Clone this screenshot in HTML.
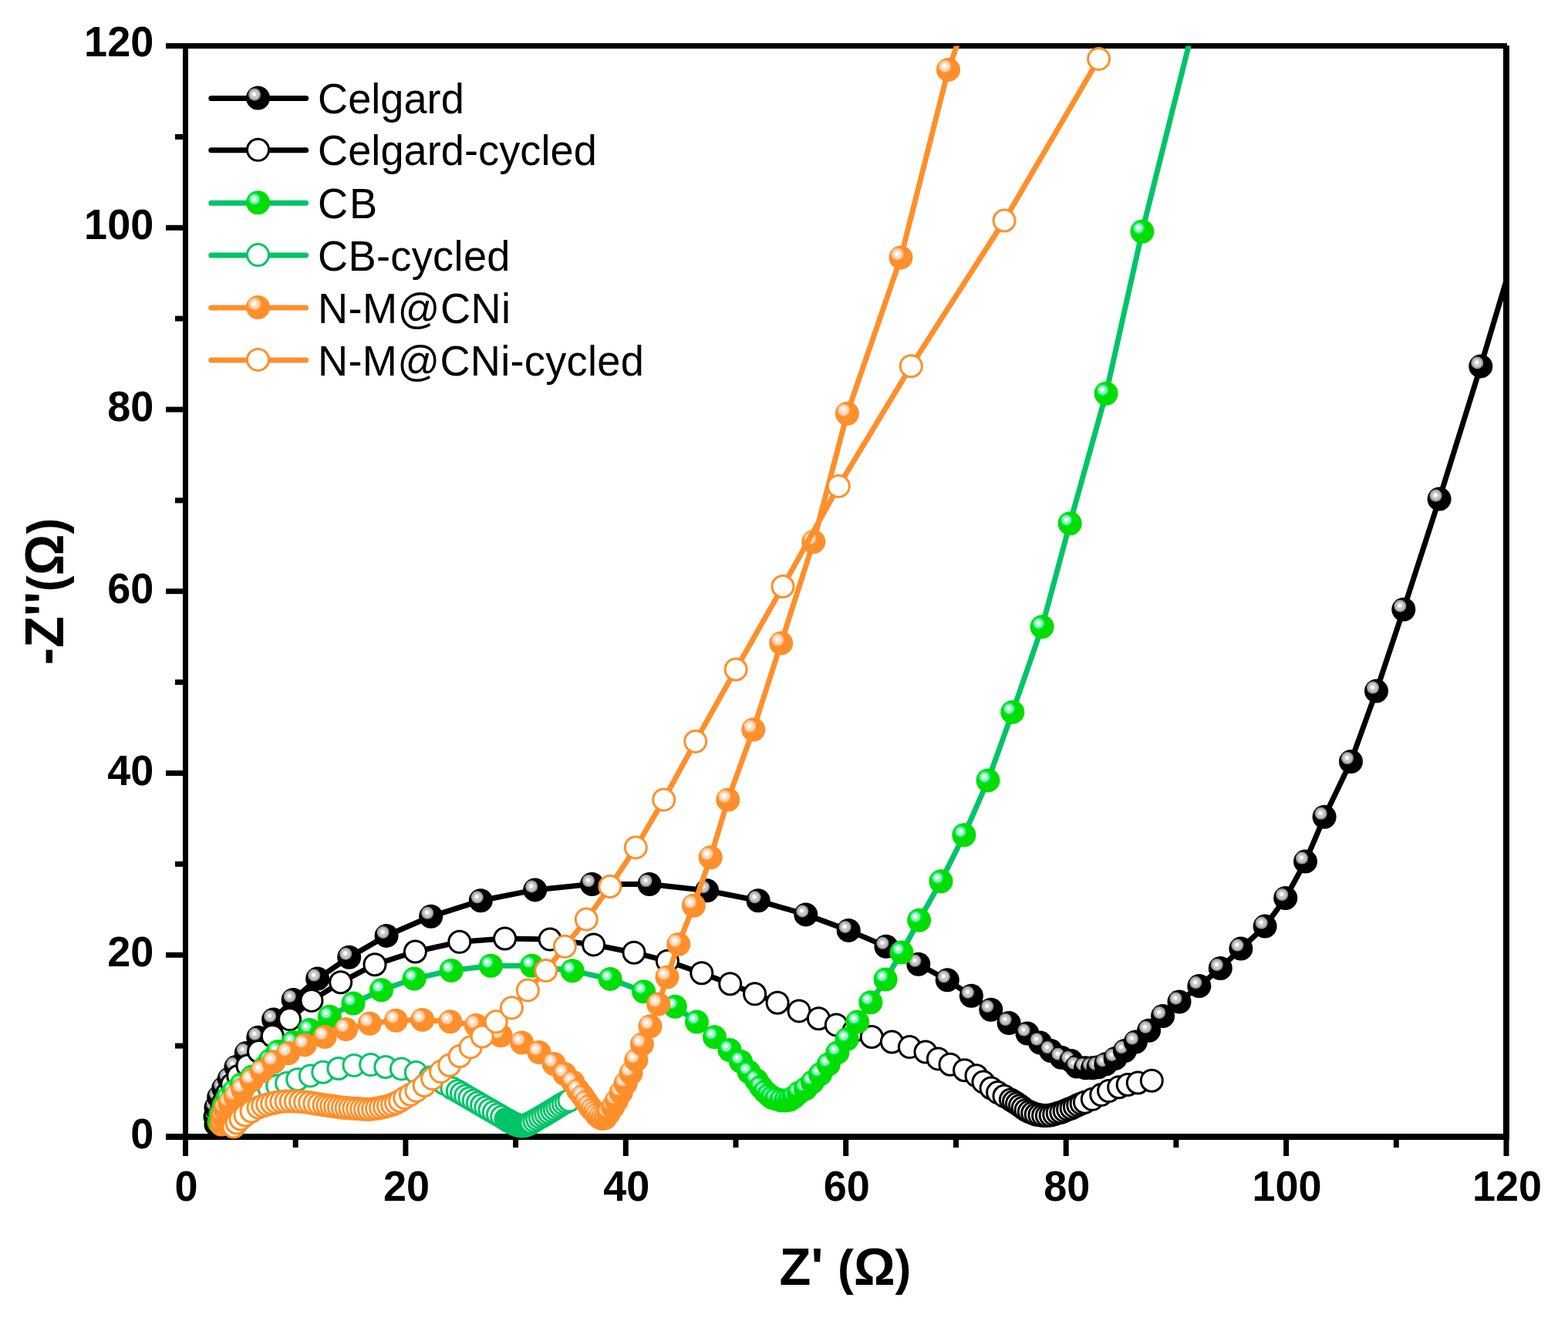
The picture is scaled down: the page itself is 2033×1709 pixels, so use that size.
<!DOCTYPE html>
<html><head><meta charset="utf-8"><title>Nyquist plot</title>
<style>html,body{margin:0;padding:0;background:#fff;}svg{display:block;}text{font-family:'Liberation Sans', Arial, Helvetica, sans-serif;}</style></head><body>
<svg width="2033" height="1709" viewBox="0 0 2033 1709">
<rect x="0" y="0" width="2033" height="1709" fill="#fff"/>
<defs>
<clipPath id="pc"><rect x="240.5" y="59.5" width="1712.5" height="1444.5"/></clipPath>
<g id="bk">
<circle r="15.5" fill="#000000"/>
<circle cx="-4.5" cy="-4.5" r="8" fill="#999999"/>
<circle cx="-4.5" cy="-4.5" r="6" fill="#C8C8C8"/>
<circle cx="-5" cy="-5" r="2.6" fill="#fff"/>
</g>
<g id="gn">
<circle r="15.5" fill="#00DD00"/>
<circle cx="-4.5" cy="-4.5" r="8" fill="#00EE70"/>
<circle cx="-4.5" cy="-4.5" r="6" fill="#9CF5B6"/>
<circle cx="-5" cy="-5" r="2.6" fill="#fff"/>
</g>
<g id="or">
<circle r="15.5" fill="#FF8F2A"/>
<circle cx="-4.5" cy="-4.5" r="8" fill="#FFC08C"/>
<circle cx="-4.5" cy="-4.5" r="6" fill="#FFDFC6"/>
<circle cx="-5" cy="-5" r="2.6" fill="#fff"/>
</g>
<circle id="ok" r="14" fill="#fff" stroke="#000000" stroke-width="3"/>
<circle id="og" r="14" fill="#fff" stroke="#00C468" stroke-width="3"/>
<circle id="oo" r="14" fill="#fff" stroke="#FF8F2A" stroke-width="3"/>
</defs>
<g fill="#000">
<rect x="237" y="56" width="7" height="1422"/>
<rect x="237" y="56" width="1717" height="7"/>
<rect x="1949" y="59" width="8" height="1419"/>
<rect x="215" y="1470" width="1742" height="8"/>
<rect x="237" y="1478" width="7" height="21"/>
<rect x="379.7" y="1478" width="7" height="10"/>
<rect x="522.4" y="1478" width="7" height="21"/>
<rect x="665.1" y="1478" width="7" height="10"/>
<rect x="807.8" y="1478" width="7" height="21"/>
<rect x="950.5" y="1478" width="7" height="10"/>
<rect x="1093.2" y="1478" width="7" height="21"/>
<rect x="1236" y="1478" width="7" height="10"/>
<rect x="1378.7" y="1478" width="7" height="21"/>
<rect x="1521.4" y="1478" width="7" height="10"/>
<rect x="1664.1" y="1478" width="7" height="21"/>
<rect x="1806.8" y="1478" width="7" height="10"/>
<rect x="1949.5" y="1478" width="7" height="21"/>
<rect x="215" y="1470.5" width="22" height="7"/>
<rect x="227" y="1352.6" width="10" height="7"/>
<rect x="215" y="1234.8" width="22" height="7"/>
<rect x="227" y="1116.9" width="10" height="7"/>
<rect x="215" y="999" width="22" height="7"/>
<rect x="227" y="881.1" width="10" height="7"/>
<rect x="215" y="763.2" width="22" height="7"/>
<rect x="227" y="645.4" width="10" height="7"/>
<rect x="215" y="527.5" width="22" height="7"/>
<rect x="227" y="409.6" width="10" height="7"/>
<rect x="215" y="291.8" width="22" height="7"/>
<rect x="227" y="173.9" width="10" height="7"/>
<rect x="215" y="56" width="22" height="7"/>
</g>
<g font-family="'Liberation Sans', Arial, Helvetica, sans-serif" font-weight="bold" font-size="54" fill="#000">
<text transform="translate(241.5 1557.3) scale(1 1.035)" text-anchor="middle">0</text>
<text transform="translate(526.9 1557.3) scale(1 1.035)" text-anchor="middle">20</text>
<text transform="translate(812.3 1557.3) scale(1 1.035)" text-anchor="middle">40</text>
<text transform="translate(1097.8 1557.3) scale(1 1.035)" text-anchor="middle">60</text>
<text transform="translate(1383.2 1557.3) scale(1 1.035)" text-anchor="middle">80</text>
<text transform="translate(1668.6 1557.3) scale(1 1.035)" text-anchor="middle">100</text>
<text transform="translate(1954 1557.3) scale(1 1.035)" text-anchor="middle">120</text>
<text transform="translate(199.2 1489) scale(1 1.035)" text-anchor="end">0</text>
<text transform="translate(199.2 1253.2) scale(1 1.035)" text-anchor="end">20</text>
<text transform="translate(199.2 1017.5) scale(1 1.035)" text-anchor="end">40</text>
<text transform="translate(199.2 781.8) scale(1 1.035)" text-anchor="end">60</text>
<text transform="translate(199.2 546) scale(1 1.035)" text-anchor="end">80</text>
<text transform="translate(199.2 310.2) scale(1 1.035)" text-anchor="end">100</text>
<text transform="translate(199.2 73.1) scale(1 1.035)" text-anchor="end">120</text>
</g>
<text transform="translate(1096 1665.8) scale(1 1.037)" text-anchor="middle" font-family="'Liberation Sans', Arial, Helvetica, sans-serif" font-weight="bold" font-size="67">Z' <tspan font-size="62.6">(</tspan>&#937;<tspan font-size="62.6">)</tspan></text>
<text transform="translate(82.2 767) rotate(-90) scale(1 1.05)" text-anchor="middle" font-family="'Liberation Sans', Arial, Helvetica, sans-serif" font-weight="bold" font-size="67">-Z''<tspan font-size="62.6">(</tspan>&#937;<tspan font-size="62.6">)</tspan></text>
<path d="M280 1458 L279 1448 L280 1436 L283.7 1422.7 L289.7 1411.2 L297.1 1399.1 L305.9 1383.6 L319.3 1365.5 L334.8 1345.3 L354.6 1322 L380.2 1296.4 L411.7 1269.1 L452.7 1241.2 L501.1 1213.4 L558.7 1188.3 L623.3 1167.8 L693.7 1153.9 L767.5 1146.5 L842 1146.5 L916.6 1154.7 L983.1 1167.8 L1044.8 1185.9 L1100.2 1206.4 L1148.9 1227.3 L1190.8 1250.3 L1228.3 1270.8 L1259.4 1291.2 L1284.8 1309.3 L1308.1 1326.5 L1332 1340.1 L1348.6 1352 L1362.5 1362.6 L1376.1 1371.2 L1388.8 1375.6 L1396.2 1383 L1407.6 1384.7 L1416.6 1384.7 L1424 1383.8 L1433.8 1379.7 L1446.1 1372.4 L1458.5 1362.5 L1472.4 1351 L1489.6 1336.3 L1507.6 1317.5 L1529 1299 L1554.8 1278.6 L1582.3 1255.5 L1608.9 1230.1 L1640.1 1201.1 L1666.7 1164.5 L1692.5 1117.1 L1717.1 1059.3 L1751.5 987.5 L1784.5 896.1 L1819.8 790.2 L1866.1 647.1 L1919.8 474.9 L1972 300" fill="none" stroke="#000000" stroke-width="7" stroke-linejoin="round" stroke-linecap="butt" clip-path="url(#pc)"/>
<g>
<use href="#bk" x="280" y="1458"/>
<use href="#bk" x="279" y="1448"/>
<use href="#bk" x="280" y="1436"/>
<use href="#bk" x="283.7" y="1422.7"/>
<use href="#bk" x="289.7" y="1411.2"/>
<use href="#bk" x="297.1" y="1399.1"/>
<use href="#bk" x="305.9" y="1383.6"/>
<use href="#bk" x="319.3" y="1365.5"/>
<use href="#bk" x="334.8" y="1345.3"/>
<use href="#bk" x="354.6" y="1322"/>
<use href="#bk" x="380.2" y="1296.4"/>
<use href="#bk" x="411.7" y="1269.1"/>
<use href="#bk" x="452.7" y="1241.2"/>
<use href="#bk" x="501.1" y="1213.4"/>
<use href="#bk" x="558.7" y="1188.3"/>
<use href="#bk" x="623.3" y="1167.8"/>
<use href="#bk" x="693.7" y="1153.9"/>
<use href="#bk" x="767.5" y="1146.5"/>
<use href="#bk" x="842" y="1146.5"/>
<use href="#bk" x="916.6" y="1154.7"/>
<use href="#bk" x="983.1" y="1167.8"/>
<use href="#bk" x="1044.8" y="1185.9"/>
<use href="#bk" x="1100.2" y="1206.4"/>
<use href="#bk" x="1148.9" y="1227.3"/>
<use href="#bk" x="1190.8" y="1250.3"/>
<use href="#bk" x="1228.3" y="1270.8"/>
<use href="#bk" x="1259.4" y="1291.2"/>
<use href="#bk" x="1284.8" y="1309.3"/>
<use href="#bk" x="1308.1" y="1326.5"/>
<use href="#bk" x="1332" y="1340.1"/>
<use href="#bk" x="1348.6" y="1352"/>
<use href="#bk" x="1362.5" y="1362.6"/>
<use href="#bk" x="1376.1" y="1371.2"/>
<use href="#bk" x="1388.8" y="1375.6"/>
<use href="#bk" x="1396.2" y="1383"/>
<use href="#bk" x="1407.6" y="1384.7"/>
<use href="#bk" x="1416.6" y="1384.7"/>
<use href="#bk" x="1424" y="1383.8"/>
<use href="#bk" x="1433.8" y="1379.7"/>
<use href="#bk" x="1446.1" y="1372.4"/>
<use href="#bk" x="1458.5" y="1362.5"/>
<use href="#bk" x="1472.4" y="1351"/>
<use href="#bk" x="1489.6" y="1336.3"/>
<use href="#bk" x="1507.6" y="1317.5"/>
<use href="#bk" x="1529" y="1299"/>
<use href="#bk" x="1554.8" y="1278.6"/>
<use href="#bk" x="1582.3" y="1255.5"/>
<use href="#bk" x="1608.9" y="1230.1"/>
<use href="#bk" x="1640.1" y="1201.1"/>
<use href="#bk" x="1666.7" y="1164.5"/>
<use href="#bk" x="1692.5" y="1117.1"/>
<use href="#bk" x="1717.1" y="1059.3"/>
<use href="#bk" x="1751.5" y="987.5"/>
<use href="#bk" x="1784.5" y="896.1"/>
<use href="#bk" x="1819.8" y="790.2"/>
<use href="#bk" x="1866.1" y="647.1"/>
<use href="#bk" x="1919.8" y="474.9"/>
</g>
<path d="M285 1452 L287 1441 L290 1429 L295 1417 L300.8 1406 L308.8 1395.4 L321 1381.9 L335.5 1363.5 L353.3 1343.5 L375.6 1321.6 L404 1297.4 L441.7 1273.7 L486 1250.7 L538.4 1234 L595.8 1221.3 L654.6 1217 L713.1 1218 L769.6 1224.9 L822 1235.2 L865.4 1246.2 L909.8 1261.7 L946.7 1275.7 L978.6 1288.8 L1008.1 1300.2 L1036 1310.9 L1061.4 1320.7 L1084.3 1328.9 L1107 1336.7 L1130.2 1344.5 L1156.4 1351 L1179.4 1357.6 L1200 1364 L1216.4 1372.9 L1232 1380.2 L1250.6 1387.7 L1266 1394.8 L1275 1403 L1285.1 1411 L1293.6 1416.6 L1302 1421.3 L1310.4 1426 L1314.5 1428.5 L1318.5 1431.1 L1322.5 1433.7 L1326.2 1436.6 L1330.1 1439.4 L1334.3 1441.6 L1338.7 1443.3 L1343.2 1445 L1347.9 1445.8 L1352.6 1446.5 L1357.4 1446.6 L1362.1 1446.1 L1366.7 1444.9 L1371.2 1443.4 L1375.8 1442.2 L1380.2 1440.4 L1384.6 1438.6 L1389.1 1437 L1393.4 1434.9 L1397.7 1432.8 L1402.1 1430.9 L1406.5 1429.2 L1416.3 1425.3 L1427.8 1419.6 L1437.6 1414.6 L1450.7 1409.7 L1462.2 1406.5 L1475.3 1404 L1493.3 1401.2" fill="none" stroke="#000000" stroke-width="7" stroke-linejoin="round" stroke-linecap="butt" clip-path="url(#pc)"/>
<g>
<use href="#ok" x="285" y="1452"/>
<use href="#ok" x="287" y="1441"/>
<use href="#ok" x="290" y="1429"/>
<use href="#ok" x="295" y="1417"/>
<use href="#ok" x="300.8" y="1406"/>
<use href="#ok" x="308.8" y="1395.4"/>
<use href="#ok" x="321" y="1381.9"/>
<use href="#ok" x="335.5" y="1363.5"/>
<use href="#ok" x="353.3" y="1343.5"/>
<use href="#ok" x="375.6" y="1321.6"/>
<use href="#ok" x="404" y="1297.4"/>
<use href="#ok" x="441.7" y="1273.7"/>
<use href="#ok" x="486" y="1250.7"/>
<use href="#ok" x="538.4" y="1234"/>
<use href="#ok" x="595.8" y="1221.3"/>
<use href="#ok" x="654.6" y="1217"/>
<use href="#ok" x="713.1" y="1218"/>
<use href="#ok" x="769.6" y="1224.9"/>
<use href="#ok" x="822" y="1235.2"/>
<use href="#ok" x="865.4" y="1246.2"/>
<use href="#ok" x="909.8" y="1261.7"/>
<use href="#ok" x="946.7" y="1275.7"/>
<use href="#ok" x="978.6" y="1288.8"/>
<use href="#ok" x="1008.1" y="1300.2"/>
<use href="#ok" x="1036" y="1310.9"/>
<use href="#ok" x="1061.4" y="1320.7"/>
<use href="#ok" x="1084.3" y="1328.9"/>
<use href="#ok" x="1107" y="1336.7"/>
<use href="#ok" x="1130.2" y="1344.5"/>
<use href="#ok" x="1156.4" y="1351"/>
<use href="#ok" x="1179.4" y="1357.6"/>
<use href="#ok" x="1200" y="1364"/>
<use href="#ok" x="1216.4" y="1372.9"/>
<use href="#ok" x="1232" y="1380.2"/>
<use href="#ok" x="1250.6" y="1387.7"/>
<use href="#ok" x="1266" y="1394.8"/>
<use href="#ok" x="1275" y="1403"/>
<use href="#ok" x="1285.1" y="1411"/>
<use href="#ok" x="1293.6" y="1416.6"/>
<use href="#ok" x="1302" y="1421.3"/>
<use href="#ok" x="1310.4" y="1426"/>
<use href="#ok" x="1314.5" y="1428.5"/>
<use href="#ok" x="1318.5" y="1431.1"/>
<use href="#ok" x="1322.5" y="1433.7"/>
<use href="#ok" x="1326.2" y="1436.6"/>
<use href="#ok" x="1330.1" y="1439.4"/>
<use href="#ok" x="1334.3" y="1441.6"/>
<use href="#ok" x="1338.7" y="1443.3"/>
<use href="#ok" x="1343.2" y="1445"/>
<use href="#ok" x="1347.9" y="1445.8"/>
<use href="#ok" x="1352.6" y="1446.5"/>
<use href="#ok" x="1357.4" y="1446.6"/>
<use href="#ok" x="1362.1" y="1446.1"/>
<use href="#ok" x="1366.7" y="1444.9"/>
<use href="#ok" x="1371.2" y="1443.4"/>
<use href="#ok" x="1375.8" y="1442.2"/>
<use href="#ok" x="1380.2" y="1440.4"/>
<use href="#ok" x="1384.6" y="1438.6"/>
<use href="#ok" x="1389.1" y="1437"/>
<use href="#ok" x="1393.4" y="1434.9"/>
<use href="#ok" x="1397.7" y="1432.8"/>
<use href="#ok" x="1402.1" y="1430.9"/>
<use href="#ok" x="1406.5" y="1429.2"/>
<use href="#ok" x="1416.3" y="1425.3"/>
<use href="#ok" x="1427.8" y="1419.6"/>
<use href="#ok" x="1437.6" y="1414.6"/>
<use href="#ok" x="1450.7" y="1409.7"/>
<use href="#ok" x="1462.2" y="1406.5"/>
<use href="#ok" x="1475.3" y="1404"/>
<use href="#ok" x="1493.3" y="1401.2"/>
</g>
<path d="M284 1455 L286 1445 L290 1434 L295 1424 L303 1415 L313 1406 L327 1396 L342 1385 L350 1375 L360.4 1363.5 L379.9 1351.5 L401.4 1335.5 L427.3 1318.3 L458 1301 L494.5 1283.8 L537.1 1269.1 L585.1 1258.4 L636.4 1252.2 L689.6 1252.2 L742.1 1258.8 L791.2 1269.4 L834.6 1285.8 L875.3 1305.2 L903.5 1325.1 L926.5 1344.8 L946 1361.5 L960.5 1376.4 L971.1 1390.1 L980.8 1400.8 L986.6 1409.2 L991.9 1415.4 L996.8 1419.8 L1001.2 1423.3 L1006.5 1425.1 L1012.7 1426.9 L1018.9 1426.9 L1024.2 1426 L1029.5 1422.5 L1035.7 1417.1 L1044.6 1411.8 L1053.5 1403 L1063.6 1392.8 L1074.3 1380 L1085.8 1364.9 L1098.2 1347.2 L1111.7 1325.1 L1128.9 1299.7 L1148.1 1270 L1169 1235 L1191.7 1193.2 L1220 1142.7 L1249.9 1082.8 L1281 1011.9 L1312.8 923.4 L1351.1 812.8 L1387.2 678.7 L1434.1 510.3 L1480.9 300.2 L1546 40" fill="none" stroke="#00C468" stroke-width="7" stroke-linejoin="round" stroke-linecap="butt" clip-path="url(#pc)"/>
<g>
<use href="#gn" x="284" y="1455"/>
<use href="#gn" x="286" y="1445"/>
<use href="#gn" x="290" y="1434"/>
<use href="#gn" x="295" y="1424"/>
<use href="#gn" x="303" y="1415"/>
<use href="#gn" x="313" y="1406"/>
<use href="#gn" x="327" y="1396"/>
<use href="#gn" x="342" y="1385"/>
<use href="#gn" x="350" y="1375"/>
<use href="#gn" x="360.4" y="1363.5"/>
<use href="#gn" x="379.9" y="1351.5"/>
<use href="#gn" x="401.4" y="1335.5"/>
<use href="#gn" x="427.3" y="1318.3"/>
<use href="#gn" x="458" y="1301"/>
<use href="#gn" x="494.5" y="1283.8"/>
<use href="#gn" x="537.1" y="1269.1"/>
<use href="#gn" x="585.1" y="1258.4"/>
<use href="#gn" x="636.4" y="1252.2"/>
<use href="#gn" x="689.6" y="1252.2"/>
<use href="#gn" x="742.1" y="1258.8"/>
<use href="#gn" x="791.2" y="1269.4"/>
<use href="#gn" x="834.6" y="1285.8"/>
<use href="#gn" x="875.3" y="1305.2"/>
<use href="#gn" x="903.5" y="1325.1"/>
<use href="#gn" x="926.5" y="1344.8"/>
<use href="#gn" x="946" y="1361.5"/>
<use href="#gn" x="960.5" y="1376.4"/>
<use href="#gn" x="971.1" y="1390.1"/>
<use href="#gn" x="980.8" y="1400.8"/>
<use href="#gn" x="986.6" y="1409.2"/>
<use href="#gn" x="991.9" y="1415.4"/>
<use href="#gn" x="996.8" y="1419.8"/>
<use href="#gn" x="1001.2" y="1423.3"/>
<use href="#gn" x="1006.5" y="1425.1"/>
<use href="#gn" x="1012.7" y="1426.9"/>
<use href="#gn" x="1018.9" y="1426.9"/>
<use href="#gn" x="1024.2" y="1426"/>
<use href="#gn" x="1029.5" y="1422.5"/>
<use href="#gn" x="1035.7" y="1417.1"/>
<use href="#gn" x="1044.6" y="1411.8"/>
<use href="#gn" x="1053.5" y="1403"/>
<use href="#gn" x="1063.6" y="1392.8"/>
<use href="#gn" x="1074.3" y="1380"/>
<use href="#gn" x="1085.8" y="1364.9"/>
<use href="#gn" x="1098.2" y="1347.2"/>
<use href="#gn" x="1111.7" y="1325.1"/>
<use href="#gn" x="1128.9" y="1299.7"/>
<use href="#gn" x="1148.1" y="1270"/>
<use href="#gn" x="1169" y="1235"/>
<use href="#gn" x="1191.7" y="1193.2"/>
<use href="#gn" x="1220" y="1142.7"/>
<use href="#gn" x="1249.9" y="1082.8"/>
<use href="#gn" x="1281" y="1011.9"/>
<use href="#gn" x="1312.8" y="923.4"/>
<use href="#gn" x="1351.1" y="812.8"/>
<use href="#gn" x="1387.2" y="678.7"/>
<use href="#gn" x="1434.1" y="510.3"/>
<use href="#gn" x="1480.9" y="300.2"/>
</g>
<path d="M292 1457 L296 1450 L301 1443 L307 1436 L315 1429 L324 1423 L336 1417 L349.2 1411.5 L359.8 1407.9 L371.6 1404.4 L385.8 1399.7 L402.3 1394.9 L418.8 1390.2 L438.9 1385.5 L459 1381.4 L480.6 1380.6 L499.9 1383.5 L520.4 1385.9 L539.3 1390.6 L558 1397 L576 1405 L586 1411 L593.3 1414.8 L598.5 1417.8 L603.7 1420.9 L608.9 1423.9 L614.2 1426.9 L619.4 1430 L624.6 1433 L629.8 1436.1 L635 1439 L640.3 1442.1 L645.5 1445.1 L650.7 1448.1 L655.9 1451.2 L657.2 1452 L658.5 1452.7 L659.8 1453.5 L661.1 1454.2 L662.4 1454.9 L663.7 1455.6 L665 1456.4 L666.4 1457 L667.7 1457.6 L669.1 1458.1 L670.6 1458.6 L672 1459 L673.5 1459.4 L674.9 1459.7 L676.4 1459.8 L677.9 1459.7 L679.4 1459.5 L680.8 1459.2 L682.3 1458.7 L683.7 1458.2 L685 1457.6 L686.4 1456.9 L687.7 1456.2 L689 1455.5 L692.8 1453.3 L696.5 1451.1 L700.3 1448.9 L704.1 1446.7 L707.8 1444.5 L711.6 1442.3 L715.4 1440.1 L719.1 1437.8 L722.7 1435.4 L726.4 1433.1 L730.2 1430.9 L734.1 1428.9 L738 1427" fill="none" stroke="#00C468" stroke-width="7" stroke-linejoin="round" stroke-linecap="butt" clip-path="url(#pc)"/>
<g>
<use href="#og" x="292" y="1457"/>
<use href="#og" x="296" y="1450"/>
<use href="#og" x="301" y="1443"/>
<use href="#og" x="307" y="1436"/>
<use href="#og" x="315" y="1429"/>
<use href="#og" x="324" y="1423"/>
<use href="#og" x="336" y="1417"/>
<use href="#og" x="349.2" y="1411.5"/>
<use href="#og" x="359.8" y="1407.9"/>
<use href="#og" x="371.6" y="1404.4"/>
<use href="#og" x="385.8" y="1399.7"/>
<use href="#og" x="402.3" y="1394.9"/>
<use href="#og" x="418.8" y="1390.2"/>
<use href="#og" x="438.9" y="1385.5"/>
<use href="#og" x="459" y="1381.4"/>
<use href="#og" x="480.6" y="1380.6"/>
<use href="#og" x="499.9" y="1383.5"/>
<use href="#og" x="520.4" y="1385.9"/>
<use href="#og" x="539.3" y="1390.6"/>
<use href="#og" x="558" y="1397"/>
<use href="#og" x="576" y="1405"/>
<use href="#og" x="586" y="1411"/>
<use href="#og" x="593.3" y="1414.8"/>
<use href="#og" x="598.5" y="1417.8"/>
<use href="#og" x="603.7" y="1420.9"/>
<use href="#og" x="608.9" y="1423.9"/>
<use href="#og" x="614.2" y="1426.9"/>
<use href="#og" x="619.4" y="1430"/>
<use href="#og" x="624.6" y="1433"/>
<use href="#og" x="629.8" y="1436.1"/>
<use href="#og" x="635" y="1439"/>
<use href="#og" x="640.3" y="1442.1"/>
<use href="#og" x="645.5" y="1445.1"/>
<use href="#og" x="650.7" y="1448.1"/>
<use href="#og" x="655.9" y="1451.2"/>
<use href="#og" x="657.2" y="1452"/>
<use href="#og" x="658.5" y="1452.7"/>
<use href="#og" x="659.8" y="1453.5"/>
<use href="#og" x="661.1" y="1454.2"/>
<use href="#og" x="662.4" y="1454.9"/>
<use href="#og" x="663.7" y="1455.6"/>
<use href="#og" x="665" y="1456.4"/>
<use href="#og" x="666.4" y="1457"/>
<use href="#og" x="667.7" y="1457.6"/>
<use href="#og" x="669.1" y="1458.1"/>
<use href="#og" x="670.6" y="1458.6"/>
<use href="#og" x="672" y="1459"/>
<use href="#og" x="673.5" y="1459.4"/>
<use href="#og" x="674.9" y="1459.7"/>
<use href="#og" x="676.4" y="1459.8"/>
<use href="#og" x="677.9" y="1459.7"/>
<use href="#og" x="679.4" y="1459.5"/>
<use href="#og" x="680.8" y="1459.2"/>
<use href="#og" x="682.3" y="1458.7"/>
<use href="#og" x="683.7" y="1458.2"/>
<use href="#og" x="685" y="1457.6"/>
<use href="#og" x="686.4" y="1456.9"/>
<use href="#og" x="687.7" y="1456.2"/>
<use href="#og" x="689" y="1455.5"/>
<use href="#og" x="692.8" y="1453.3"/>
<use href="#og" x="696.5" y="1451.1"/>
<use href="#og" x="700.3" y="1448.9"/>
<use href="#og" x="704.1" y="1446.7"/>
<use href="#og" x="707.8" y="1444.5"/>
<use href="#og" x="711.6" y="1442.3"/>
<use href="#og" x="715.4" y="1440.1"/>
<use href="#og" x="719.1" y="1437.8"/>
<use href="#og" x="722.7" y="1435.4"/>
<use href="#og" x="726.4" y="1433.1"/>
<use href="#og" x="730.2" y="1430.9"/>
<use href="#og" x="734.1" y="1428.9"/>
<use href="#og" x="738" y="1427"/>
</g>
<path d="M287 1458 L288.5 1447 L291.7 1437.5 L297.8 1430.1 L305.2 1422 L314.6 1412.6 L326.1 1401.1 L339.5 1389.2 L355 1377 L373.7 1365.7 L395.2 1354.9 L421.1 1344.5 L448.6 1334.6 L479.4 1327.3 L513.3 1323.2 L547.7 1322.4 L583.8 1324.8 L617.4 1329.5 L649 1342.8 L676.6 1352 L698.9 1364.5 L718.2 1379.5 L732 1392.5 L742.8 1403.1 L749.6 1413.8 L755.5 1421.4 L760.1 1428.4 L764.2 1434.3 L767.8 1438.9 L771.3 1442.4 L774 1446 L777.5 1449 L781 1450.5 L785 1449.5 L789 1444 L794.7 1435.4 L799.4 1427.2 L805.2 1416.7 L811.1 1405 L818.1 1391.5 L824.9 1374.5 L832.5 1354 L843 1330.8 L853.7 1302 L865 1267 L879.7 1224.4 L899.4 1174.3 L921.3 1111.7 L943.8 1037 L976.8 946 L1012.7 834 L1054.8 702.5 L1098.4 536.2 L1168 333.9 L1229.5 90.4 L1247.6 40" fill="none" stroke="#FF8F2A" stroke-width="7" stroke-linejoin="round" stroke-linecap="butt" clip-path="url(#pc)"/>
<g>
<use href="#or" x="287" y="1458"/>
<use href="#or" x="288.5" y="1447"/>
<use href="#or" x="291.7" y="1437.5"/>
<use href="#or" x="297.8" y="1430.1"/>
<use href="#or" x="305.2" y="1422"/>
<use href="#or" x="314.6" y="1412.6"/>
<use href="#or" x="326.1" y="1401.1"/>
<use href="#or" x="339.5" y="1389.2"/>
<use href="#or" x="355" y="1377"/>
<use href="#or" x="373.7" y="1365.7"/>
<use href="#or" x="395.2" y="1354.9"/>
<use href="#or" x="421.1" y="1344.5"/>
<use href="#or" x="448.6" y="1334.6"/>
<use href="#or" x="479.4" y="1327.3"/>
<use href="#or" x="513.3" y="1323.2"/>
<use href="#or" x="547.7" y="1322.4"/>
<use href="#or" x="583.8" y="1324.8"/>
<use href="#or" x="617.4" y="1329.5"/>
<use href="#or" x="649" y="1342.8"/>
<use href="#or" x="676.6" y="1352"/>
<use href="#or" x="698.9" y="1364.5"/>
<use href="#or" x="718.2" y="1379.5"/>
<use href="#or" x="732" y="1392.5"/>
<use href="#or" x="742.8" y="1403.1"/>
<use href="#or" x="749.6" y="1413.8"/>
<use href="#or" x="755.5" y="1421.4"/>
<use href="#or" x="760.1" y="1428.4"/>
<use href="#or" x="764.2" y="1434.3"/>
<use href="#or" x="767.8" y="1438.9"/>
<use href="#or" x="771.3" y="1442.4"/>
<use href="#or" x="774" y="1446"/>
<use href="#or" x="777.5" y="1449"/>
<use href="#or" x="781" y="1450.5"/>
<use href="#or" x="785" y="1449.5"/>
<use href="#or" x="789" y="1444"/>
<use href="#or" x="794.7" y="1435.4"/>
<use href="#or" x="799.4" y="1427.2"/>
<use href="#or" x="805.2" y="1416.7"/>
<use href="#or" x="811.1" y="1405"/>
<use href="#or" x="818.1" y="1391.5"/>
<use href="#or" x="824.9" y="1374.5"/>
<use href="#or" x="832.5" y="1354"/>
<use href="#or" x="843" y="1330.8"/>
<use href="#or" x="853.7" y="1302"/>
<use href="#or" x="865" y="1267"/>
<use href="#or" x="879.7" y="1224.4"/>
<use href="#or" x="899.4" y="1174.3"/>
<use href="#or" x="921.3" y="1111.7"/>
<use href="#or" x="943.8" y="1037"/>
<use href="#or" x="976.8" y="946"/>
<use href="#or" x="1012.7" y="834"/>
<use href="#or" x="1054.8" y="702.5"/>
<use href="#or" x="1098.4" y="536.2"/>
<use href="#or" x="1168" y="333.9"/>
<use href="#or" x="1229.5" y="90.4"/>
</g>
<path d="M303 1461 L307 1456 L312 1451 L318 1446 L326 1441 L335 1436 L340.8 1433.8 L346.7 1432.1 L352.7 1430.7 L358.7 1429.4 L364.8 1428.4 L371 1428.1 L377.1 1427.9 L383.3 1428 L389.5 1428.3 L395.6 1428.9 L401.7 1429.7 L407.8 1430.8 L413.9 1431.8 L420 1432.7 L424.9 1433.4 L429.7 1434.1 L434.6 1434.8 L439.4 1435.5 L444.3 1436.2 L449.1 1436.6 L454 1436.9 L458.9 1437.2 L463.8 1437.6 L468.7 1437.9 L473.6 1438.2 L478.5 1438.4 L483.5 1437.9 L488.5 1437.2 L493.5 1436.3 L498.5 1435.2 L503.5 1433.9 L508.5 1432.3 L513.5 1430.3 L518.6 1427.5 L524.8 1423.6 L532.3 1419.2 L539.9 1414.4 L550.2 1407.5 L560.6 1398.6 L571.6 1389.6 L582.8 1381.2 L596.2 1369.5 L610.1 1357.9 L625.2 1344 L643.2 1324.8 L663.4 1306.8 L684.4 1283.9 L707.8 1258.5 L732.4 1227.3 L760.3 1192.1 L790.9 1149.5 L824.3 1098.9 L860.7 1036.9 L901.7 961.4 L954.1 868 L1015 760.5 L1087.3 630.4 L1181.3 474.7 L1302.1 286 L1424.6 76.4" fill="none" stroke="#FF8F2A" stroke-width="7" stroke-linejoin="round" stroke-linecap="butt" clip-path="url(#pc)"/>
<g>
<use href="#oo" x="303" y="1461"/>
<use href="#oo" x="307" y="1456"/>
<use href="#oo" x="312" y="1451"/>
<use href="#oo" x="318" y="1446"/>
<use href="#oo" x="326" y="1441"/>
<use href="#oo" x="335" y="1436"/>
<use href="#oo" x="340.8" y="1433.8"/>
<use href="#oo" x="346.7" y="1432.1"/>
<use href="#oo" x="352.7" y="1430.7"/>
<use href="#oo" x="358.7" y="1429.4"/>
<use href="#oo" x="364.8" y="1428.4"/>
<use href="#oo" x="371" y="1428.1"/>
<use href="#oo" x="377.1" y="1427.9"/>
<use href="#oo" x="383.3" y="1428"/>
<use href="#oo" x="389.5" y="1428.3"/>
<use href="#oo" x="395.6" y="1428.9"/>
<use href="#oo" x="401.7" y="1429.7"/>
<use href="#oo" x="407.8" y="1430.8"/>
<use href="#oo" x="413.9" y="1431.8"/>
<use href="#oo" x="420" y="1432.7"/>
<use href="#oo" x="424.9" y="1433.4"/>
<use href="#oo" x="429.7" y="1434.1"/>
<use href="#oo" x="434.6" y="1434.8"/>
<use href="#oo" x="439.4" y="1435.5"/>
<use href="#oo" x="444.3" y="1436.2"/>
<use href="#oo" x="449.1" y="1436.6"/>
<use href="#oo" x="454" y="1436.9"/>
<use href="#oo" x="458.9" y="1437.2"/>
<use href="#oo" x="463.8" y="1437.6"/>
<use href="#oo" x="468.7" y="1437.9"/>
<use href="#oo" x="473.6" y="1438.2"/>
<use href="#oo" x="478.5" y="1438.4"/>
<use href="#oo" x="483.5" y="1437.9"/>
<use href="#oo" x="488.5" y="1437.2"/>
<use href="#oo" x="493.5" y="1436.3"/>
<use href="#oo" x="498.5" y="1435.2"/>
<use href="#oo" x="503.5" y="1433.9"/>
<use href="#oo" x="508.5" y="1432.3"/>
<use href="#oo" x="513.5" y="1430.3"/>
<use href="#oo" x="518.6" y="1427.5"/>
<use href="#oo" x="524.8" y="1423.6"/>
<use href="#oo" x="532.3" y="1419.2"/>
<use href="#oo" x="539.9" y="1414.4"/>
<use href="#oo" x="550.2" y="1407.5"/>
<use href="#oo" x="560.6" y="1398.6"/>
<use href="#oo" x="571.6" y="1389.6"/>
<use href="#oo" x="582.8" y="1381.2"/>
<use href="#oo" x="596.2" y="1369.5"/>
<use href="#oo" x="610.1" y="1357.9"/>
<use href="#oo" x="625.2" y="1344"/>
<use href="#oo" x="643.2" y="1324.8"/>
<use href="#oo" x="663.4" y="1306.8"/>
<use href="#oo" x="684.4" y="1283.9"/>
<use href="#oo" x="707.8" y="1258.5"/>
<use href="#oo" x="732.4" y="1227.3"/>
<use href="#oo" x="760.3" y="1192.1"/>
<use href="#oo" x="790.9" y="1149.5"/>
<use href="#oo" x="824.3" y="1098.9"/>
<use href="#oo" x="860.7" y="1036.9"/>
<use href="#oo" x="901.7" y="961.4"/>
<use href="#oo" x="954.1" y="868"/>
<use href="#oo" x="1015" y="760.5"/>
<use href="#oo" x="1087.3" y="630.4"/>
<use href="#oo" x="1181.3" y="474.7"/>
<use href="#oo" x="1302.1" y="286"/>
<use href="#oo" x="1424.6" y="76.4"/>
</g>
<line x1="273.8" y1="127.5" x2="396.7" y2="127.5" stroke="#000000" stroke-width="7" stroke-linecap="round"/>
<use href="#bk" x="334.5" y="127"/>
<text transform="translate(412 147.1) scale(1 1.03)" font-family="'Liberation Sans', Arial, Helvetica, sans-serif" font-size="54.2" fill="#000" textLength="189.8" lengthAdjust="spacing">Celgard</text>
<line x1="273.8" y1="194.8" x2="396.7" y2="194.8" stroke="#000000" stroke-width="7" stroke-linecap="round"/>
<use href="#ok" x="334.5" y="194.3"/>
<text transform="translate(412 214.4) scale(1 1.03)" font-family="'Liberation Sans', Arial, Helvetica, sans-serif" font-size="54.2" fill="#000" textLength="361.8" lengthAdjust="spacing">Celgard-cycled</text>
<line x1="273.8" y1="263.3" x2="396.7" y2="263.3" stroke="#00C468" stroke-width="7" stroke-linecap="round"/>
<use href="#gn" x="334.5" y="262.8"/>
<text transform="translate(412 282.9) scale(1 1.03)" font-family="'Liberation Sans', Arial, Helvetica, sans-serif" font-size="54.2" fill="#000" textLength="77.1" lengthAdjust="spacing">CB</text>
<line x1="273.8" y1="331.1" x2="396.7" y2="331.1" stroke="#00C468" stroke-width="7" stroke-linecap="round"/>
<use href="#og" x="334.5" y="330.6"/>
<text transform="translate(412 350.7) scale(1 1.03)" font-family="'Liberation Sans', Arial, Helvetica, sans-serif" font-size="54.2" fill="#000" textLength="249.5" lengthAdjust="spacing">CB-cycled</text>
<line x1="273.8" y1="399" x2="396.7" y2="399" stroke="#FF8F2A" stroke-width="7" stroke-linecap="round"/>
<use href="#or" x="334.5" y="398.5"/>
<text transform="translate(412 418.6) scale(1 1.03)" font-family="'Liberation Sans', Arial, Helvetica, sans-serif" font-size="54.2" fill="#000" textLength="250.0" lengthAdjust="spacing">N-M@CNi</text>
<line x1="273.8" y1="466.9" x2="396.7" y2="466.9" stroke="#FF8F2A" stroke-width="7" stroke-linecap="round"/>
<use href="#oo" x="334.5" y="466.4"/>
<text transform="translate(412 486.5) scale(1 1.03)" font-family="'Liberation Sans', Arial, Helvetica, sans-serif" font-size="54.2" fill="#000" textLength="422.8" lengthAdjust="spacing">N-M@CNi-cycled</text>
</svg>
</body></html>
